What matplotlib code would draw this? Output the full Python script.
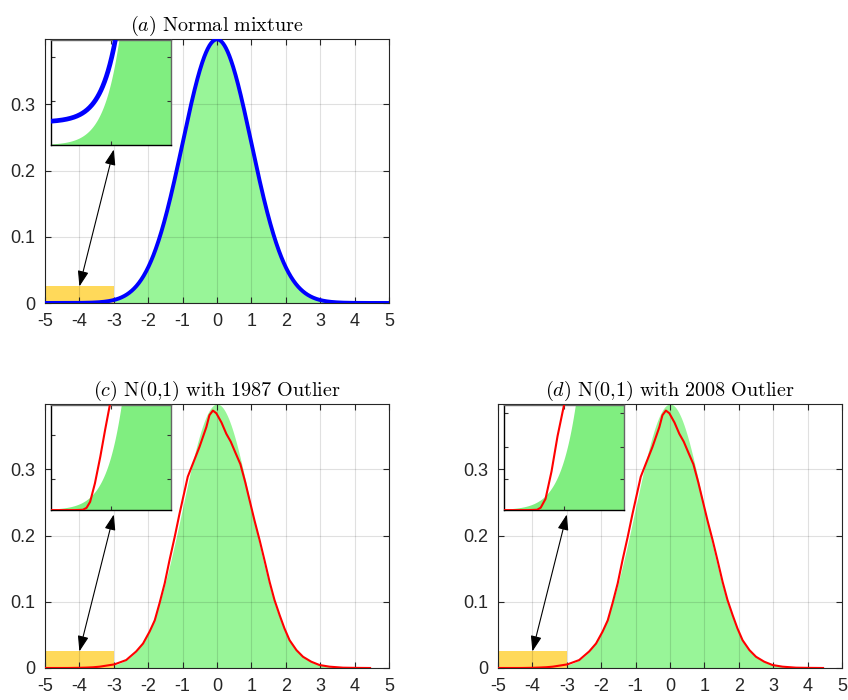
import numpy as np
import matplotlib.pyplot as plt
from matplotlib.patches import Rectangle

plt.rcParams['font.family'] = ['Liberation Sans', 'DejaVu Sans']
plt.rcParams['mathtext.fontset'] = 'cm'

# N(0,1) reference and a slightly contaminated normal mixture
mix_weight = 0.0015
mix_sd = 10.0

# kernel density of the N(0,1) sample with the 1987 outlier
kde_x_1987 = [-5.0, -4.6, -4.46, -4.4, -4.34, -4.26, -4.17, -4.09, -4.01, -3.8, -3.6, -3.41, -2.98,
              -2.64, -2.35, -2.15, -1.96, -1.81, -1.67, -1.52, -1.38, -1.23, -1.09, -0.94,
              -0.85, -0.70, -0.51, -0.31, -0.22, -0.12, -0.02, 0.13, 0.27, 0.40, 0.53,
              0.68, 0.82, 0.95, 1.09, 1.24, 1.38, 1.53, 1.67, 1.82, 1.96, 2.11, 2.31,
              2.50, 2.74, 2.98, 3.27, 3.66, 4.0, 4.45]
kde_y_1987 = [0.0, 0.0, 1e-6, 6e-6, 2.2e-5, 7.1e-5, 1.42e-4, 2.13e-4, 2.8e-4, 6e-4, 1.1e-3, 0.002, 0.0055,
              0.012, 0.025, 0.037, 0.055, 0.072, 0.098, 0.128, 0.163, 0.198, 0.233, 0.268,
              0.289, 0.309, 0.334, 0.364, 0.382, 0.389, 0.385, 0.371, 0.354, 0.342, 0.326,
              0.308, 0.281, 0.253, 0.223, 0.193, 0.163, 0.130, 0.103, 0.080, 0.060, 0.042, 0.027,
              0.017, 0.0095, 0.0045, 0.002, 0.0005, 0.0002, 0.0]

# the same sample with the 2008 outlier
kde_x_2008 = [-5.0, -4.6, -4.44, -4.38, -4.3, -4.2, -4.1, -3.99, -3.8, -3.6, -3.41, -2.98,
              -2.64, -2.35, -2.15, -1.96, -1.81, -1.67, -1.52, -1.38, -1.23, -1.09, -0.94,
              -0.85, -0.70, -0.51, -0.31, -0.22, -0.12, -0.02, 0.13, 0.27, 0.40, 0.53,
              0.68, 0.82, 0.95, 1.09, 1.24, 1.38, 1.53, 1.67, 1.82, 1.96, 2.11, 2.31,
              2.50, 2.74, 2.98, 3.27, 3.66, 4.0, 4.45]
kde_y_2008 = [0.0, 0.0, 1e-6, 7e-6, 3.2e-5, 1.1e-4, 2.1e-4, 3.0e-4, 6.5e-4, 1.15e-3, 0.002, 0.0055,
              0.012, 0.025, 0.037, 0.055, 0.072, 0.098, 0.128, 0.163, 0.198, 0.233, 0.268,
              0.289, 0.309, 0.334, 0.364, 0.382, 0.389, 0.385, 0.371, 0.354, 0.342, 0.326,
              0.308, 0.281, 0.253, 0.223, 0.193, 0.163, 0.130, 0.103, 0.080, 0.060, 0.042, 0.027,
              0.017, 0.0095, 0.0045, 0.002, 0.0005, 0.0002, 0.0]

titles = [r'$(a)\ \mathrm{Normal\ mixture}$',
          r'$(c)\ \mathrm{N(0{,}1)\ with\ 1987\ Outlier}$',
          r'$(d)\ \mathrm{N(0{,}1)\ with\ 2008\ Outlier}$']
inset_ymax = [2.4e-4, 2.8e-4, 3.0e-4]
inset_yticks = [[1e-4, 2e-4], [0.83e-4, 2.0e-4], [0.89e-4, 1.8e-4, 2.76e-4]]
xticks = np.arange(-5, 6)
yticks = [0, 0.1, 0.2, 0.3]
ytick_labels = ['0', '0.1', '0.2', '0.3']

green_main = '#98F598'
green_inset = '#80EE80'
yellow = '#FFD95A'
edge = '0.15'

x = np.linspace(-5, 5, 1001)
phi = np.exp(-x**2 / 2) / np.sqrt(2 * np.pi)
mixture = (1 - mix_weight) * phi + mix_weight * np.exp(-(x / mix_sd)**2 / 2) / (mix_sd * np.sqrt(2 * np.pi))
peak = 1 / np.sqrt(2 * np.pi)

fig = plt.figure(figsize=(8.48, 7.0), dpi=100)
positions = [[45 / 848, 1 - 303 / 700, 344 / 848, 264 / 700],
             [45 / 848, 1 - 668 / 700, 344 / 848, 264 / 700],
             [498 / 848, 1 - 668 / 700, 344 / 848, 264 / 700]]
curves = [(x, mixture, 'b', 2.8),
          (kde_x_1987, kde_y_1987, 'r', 1.5),
          (kde_x_2008, kde_y_2008, 'r', 1.5)]

for i in range(3):
    ax = fig.add_axes(positions[i])
    ax.fill_between(x, 0, phi, color=green_main, lw=0, zorder=1)
    ax.add_patch(Rectangle((-5, 0), 2, 0.025, facecolor=yellow, edgecolor='none', zorder=1.5))
    cx, cy, col, lw = curves[i]
    ax.plot(cx, cy, color=col, lw=lw, zorder=3, solid_joinstyle='round')
    ax.annotate('', xy=(-3, 0.232), xytext=(-4, 0.025),
                arrowprops=dict(arrowstyle='<|-|>,head_length=0.63,head_width=0.22',
                                mutation_scale=15, color='k', lw=0.8,
                                shrinkA=0, shrinkB=0), zorder=4)
    ax.set_xlim(-5, 5)
    ax.set_ylim(0, peak)
    ax.set_xticks(xticks)
    ax.set_xticklabels([str(t) for t in xticks])
    ax.set_yticks(yticks)
    ax.set_yticklabels(ytick_labels)
    ax.set_axisbelow(False)
    ax.grid(True, color='k', alpha=0.12, lw=0.8)
    ax.tick_params(direction='in', top=True, right=True, length=4, width=0.8,
                   color=edge, labelcolor=edge, labelsize=13)
    ax.tick_params(axis='x', pad=7)
    ax.tick_params(axis='y', pad=7)
    for s in ax.spines.values():
        s.set_color(edge)
        s.set_linewidth(0.8)
    ax.set_title(titles[i], fontsize=14.5, pad=6)

    # zoom on the left tail
    ins = ax.inset_axes([0.016, 0.598, 0.349, 0.40])
    ins.set_zorder(5)
    ins.fill_between(x, 0, phi, color=green_inset, lw=0, zorder=1)
    ins.plot(cx, cy, color=col, lw=lw + (0.6 if i == 0 else 0), zorder=3,
             solid_joinstyle='round')
    ins.set_xlim(-5, -3)
    ins.set_ylim(0, inset_ymax[i])
    ins.set_xticks([-4])
    ins.set_yticks(inset_yticks[i])
    ins.tick_params(direction='in', top=True, right=True, length=3, width=0.8,
                    labelbottom=False, labelleft=False, color='0.2')
    ins.spines['left'].set_color('k')
    ins.spines['bottom'].set_color('k')
    ins.spines['top'].set_color('0.4')
    ins.spines['right'].set_color('0.4')
    for s in ins.spines.values():
        s.set_linewidth(1.0)

fig.savefig('out.png', dpi=100)
